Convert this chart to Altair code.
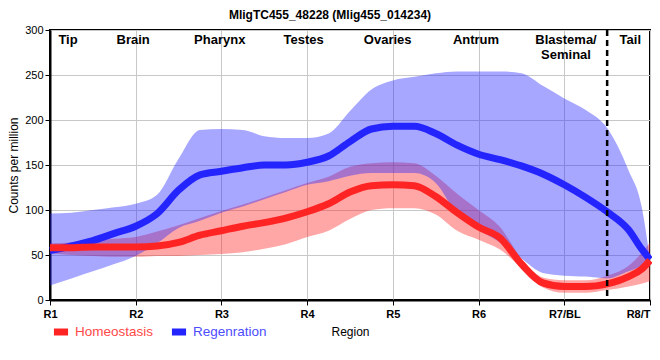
import altair as alt
import pandas as pd

# ---- data ----
x_pos = [1, 1.25, 1.5, 1.75, 2, 2.25, 2.5, 2.75, 3, 3.25, 3.5, 3.75, 4, 4.25, 4.5,
         4.75, 5, 5.25, 5.5, 5.75, 6, 6.25, 6.5, 6.75, 7, 7.25, 7.5, 7.75, 7.9, 8]
homeo_mean = [58, 58, 59, 59, 59, 60, 64, 72, 77, 82, 86, 91, 98, 107, 120,
              127, 128, 127, 115, 97, 81, 69, 40, 19, 15, 15, 18, 26, 34, 44]
homeo_hi = [63, 64, 66, 68, 70, 76, 83, 91, 99, 106, 114, 122, 130, 137, 148,
            152, 153, 152, 138, 118, 100, 81, 46, 25, 22, 22, 27, 38, 52, 64]
homeo_lo = [52, 50, 49, 48, 48, 49, 49, 50, 51, 53, 57, 62, 70, 77, 90,
            100, 102, 102, 95, 77, 67, 56, 36, 14, 8, 8, 11, 15, 18, 21]
regen_mean = [55, 60, 66, 74, 82, 96, 122, 139, 143, 147, 150, 150, 153, 160, 176,
              190, 193, 193, 185, 172, 162, 156, 149, 140, 128, 114, 98, 78, 57, 45]
regen_hi = [96, 97, 100, 103, 107, 117, 157, 189, 190, 189, 182, 180, 180, 185, 210,
            234, 244, 248, 252, 254, 254, 254, 252, 238, 224, 211, 191, 144, 105, 45]
regen_lo = [16, 24, 32, 40, 49, 63, 80, 88, 97, 104, 112, 120, 128, 132, 138,
            141, 141, 141, 130, 95, 78, 64, 46, 30, 27, 26, 24, 32, 37, 40]

series_names = ["Homeostasis", "Regenration"]
series_colors = ["#ff2424", "#2424ff"]
legend_label_colors = ["#ff4848", "#4c4cff"]

tick_values = [1, 2, 3, 4, 5, 6, 7, 8]
tick_labels = ["R1", "R2", "R3", "R4", "R5", "R6", "R7/BL", "R8/T"]
y_ticks = [0, 50, 100, 150, 200, 250, 300]

region_names = ["Tip", "Brain", "Pharynx", "Testes", "Ovaries", "Antrum",
                "Blastema/\nSeminal", "Tail"]
region_x = [1.21, 1.97, 2.98, 3.96, 4.94, 5.97, 7.02, 7.77]
region_y = [296, 296, 296, 296, 296, 296, 296, 296]
boundary_x = [7.5]

# ---- tables ----
rows = []
for name, m, lo, hi in [("Homeostasis", homeo_mean, homeo_lo, homeo_hi),
                        ("Regenration", regen_mean, regen_lo, regen_hi)]:
    for xv, a, b, c in zip(x_pos, m, lo, hi):
        rows.append({"series": name, "x": xv, "mean": a, "lo": b, "hi": c})
df = pd.DataFrame(rows)
region_df = pd.DataFrame({"name": region_names, "x": region_x, "y": region_y})
boundary_df = pd.DataFrame({"x": boundary_x})

FONT = "Liberation Sans"
xscale = alt.Scale(domain=[1, 8], nice=False, zero=False)
yscale = alt.Scale(domain=[0, 300], nice=False)
color_scale = alt.Scale(domain=series_names, range=series_colors)

label_expr = "[" + ",".join("'%s'" % t for t in tick_labels) + "][datum.value-1]"
x_axis = alt.Axis(values=tick_values, labelExpr=label_expr, title="Region",
                  labelFontWeight="bold", labelFontSize=11, titleFontSize=12,
                  titleFontWeight="normal", titlePadding=7, labelPadding=3,
                  labelFlush=False,
                  labelAlign={"expr": "datum.value == %d ? 'right' : 'center'" % tick_values[-1]})
y_axis = alt.Axis(values=y_ticks, title="Counts per million", labelFontSize=11,
                  titleFontSize=12, titleFontWeight="normal", titlePadding=4)

x_enc = alt.X("x:Q", scale=xscale, axis=x_axis)

label_color_expr = "datum.label == '%s' ? '%s' : '%s'" % (
    series_names[0], legend_label_colors[0], legend_label_colors[1])

legend = alt.Legend(title=None, orient="none", legendX=0, legendY=291,
                    direction="horizontal", symbolType="stroke",
                    symbolStrokeWidth=7, symbolSize=200, labelFontSize=13.5,
                    labelFont=FONT, labelColor={"expr": label_color_expr},
                    columnPadding=3, labelOffset=3)

color_enc = alt.Color("series:N", scale=color_scale, legend=legend)

bands = alt.Chart(df).mark_area(
    interpolate="monotone", fillOpacity=0.4, strokeOpacity=0.3, strokeWidth=1
).encode(
    x=x_enc,
    y=alt.Y("lo:Q", scale=yscale, axis=y_axis),
    y2="hi:Q",
    color=color_enc,
)

line_enc = dict(
    x=x_enc,
    y=alt.Y("mean:Q", scale=yscale, axis=y_axis),
    color=color_enc,
)

line_blue = alt.Chart(df).transform_filter(
    alt.datum.series == series_names[1]
).mark_line(strokeWidth=7, interpolate="monotone").encode(**line_enc)

line_red = alt.Chart(df).transform_filter(
    alt.datum.series == series_names[0]
).mark_line(strokeWidth=7, interpolate="monotone").encode(**line_enc)

rule = alt.Chart(boundary_df).mark_rule(
    color="black", strokeDash=[6, 4], strokeWidth=2.5
).encode(x=alt.X("x:Q", scale=xscale))

texts = alt.Chart(region_df).mark_text(
    font=FONT, fontSize=13, fontWeight="bold", baseline="top",
    lineBreak="\n", color="black", align="center"
).encode(
    x=alt.X("x:Q", scale=xscale),
    y=alt.Y("y:Q", scale=yscale),
    text="name:N",
)

chart = alt.layer(bands, line_blue, line_red, rule, texts).properties(
    width=600, height=270,
    autosize=alt.AutoSizeParams(type="none"),
    padding={"left": 42, "top": 22, "right": 2, "bottom": 60},
    title=alt.TitleParams("MligTC455_48228 (Mlig455_014234)", fontSize=12,
                          fontWeight="bold", font=FONT, anchor="middle",
                          frame="group", dx=-20, offset=2, color="black"),
).configure(font=FONT).configure_view(
    stroke="black", strokeWidth=2
).configure_axis(
    gridColor="#c8c8c8", gridWidth=1, domainColor="black", domainWidth=2,
    tickColor="black", tickSize=5, labelColor="black", titleColor="black",
    labelFont=FONT, titleFont=FONT
)

chart.save("out.html", embed_options={"renderer": "svg", "actions": False})
